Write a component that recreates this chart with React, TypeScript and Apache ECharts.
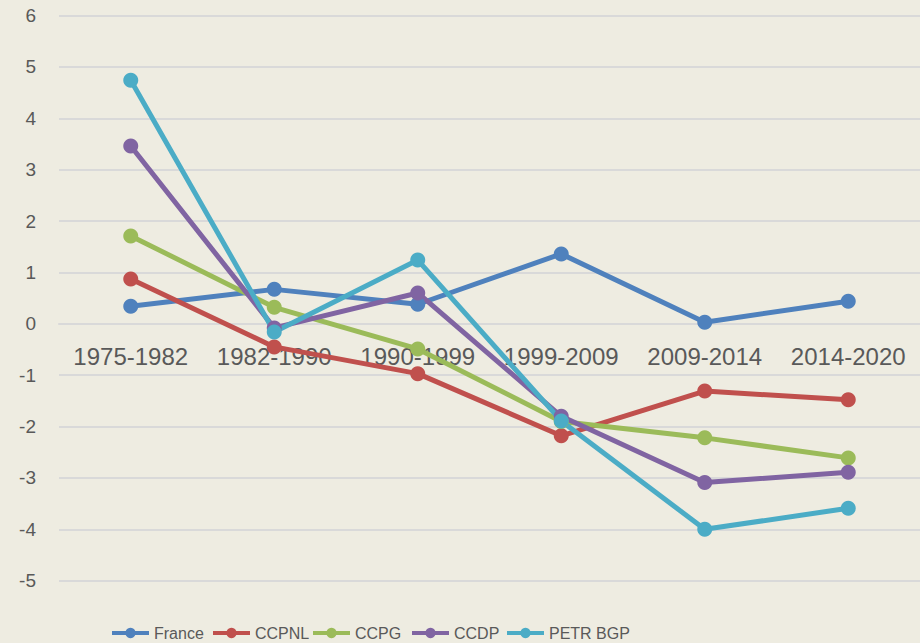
import React, { useEffect, useRef } from "react";
import * as echarts from "echarts";

const categories = ["1975-1982", "1982-1990", "1990-1999", "1999-2009", "2009-2014", "2014-2020"];
const seriesNames = ["France", "CCPNL", "CCPG", "CCDP", "PETR BGP"];
const france = [0.34, 0.67, 0.38, 1.36, 0.03, 0.44];
const ccpnl = [0.87, -0.45, -0.97, -2.18, -1.31, -1.48];
const ccpg = [1.71, 0.32, -0.49, -1.9, -2.22, -2.61];
const ccdp = [3.46, -0.08, 0.6, -1.8, -3.09, -2.89];
const petrBgp = [4.74, -0.16, 1.24, -1.89, -4.0, -3.59];
const colors = ["#4F81BD", "#C0504D", "#9BBB59", "#8064A2", "#4BACC6"];
const legendLefts = [110, 211, 311, 410, 505];

const GRID_TOP = 15.5;
const GRID_H = 565.2;
const Y_MIN = -5;
const Y_MAX = 6;

export default function App() {
  const ref = useRef<HTMLDivElement>(null);
  useEffect(() => {
    if (!ref.current) return;
    const chart = echarts.init(ref.current, null, { renderer: "svg" });
    const data = [france, ccpnl, ccpg, ccdp, petrBgp];
    const zeroOffset = -((0 - Y_MIN) / (Y_MAX - Y_MIN)) * GRID_H;
    chart.setOption({
      animation: false,
      backgroundColor: "#EEECE1",
      color: colors,
      textStyle: { fontFamily: "'Liberation Sans', Arial, sans-serif", color: "#595959" },
      grid: { left: 59, top: GRID_TOP, width: 864, height: GRID_H },
      legend: seriesNames.map((name, i) => ({
        left: legendLefts[i],
        top: 625,
        itemWidth: 37,
        itemHeight: 13,
        padding: 0,
        lineStyle: { width: 4 },
        textStyle: {
          fontFamily: "'Liberation Sans', sans-serif",
          fontSize: 16,
          color: "#595959",
        },
        data: [name],
      })),
      xAxis: {
        type: "category",
        data: categories,
        boundaryGap: true,
        offset: zeroOffset,
        axisLine: { show: true, onZero: false, lineStyle: { color: "#D9D9D9", width: 2 } },
        axisTick: { show: false },
        axisLabel: { fontSize: 24, color: "#595959", margin: 21, interval: 0 },
      },
      yAxis: {
        type: "value",
        min: Y_MIN,
        max: Y_MAX,
        interval: 1,
        axisLine: { show: false },
        axisTick: { show: false },
        axisLabel: { fontSize: 19, color: "#595959", margin: 23 },
        splitLine: { lineStyle: { color: "#D9D9D9", width: 2 } },
      },
      series: seriesNames.map((name, i) => ({
        name,
        type: "line",
        data: data[i],
        symbol: "circle",
        symbolSize: 15,
        lineStyle: { width: 5, color: colors[i] },
        itemStyle: { color: colors[i] },
      })),
    });
    return () => chart.dispose();
  }, []);
  return <div ref={ref} style={{ width: 920, height: 643, position: "absolute", left: 0, top: 0 }} />;
}
